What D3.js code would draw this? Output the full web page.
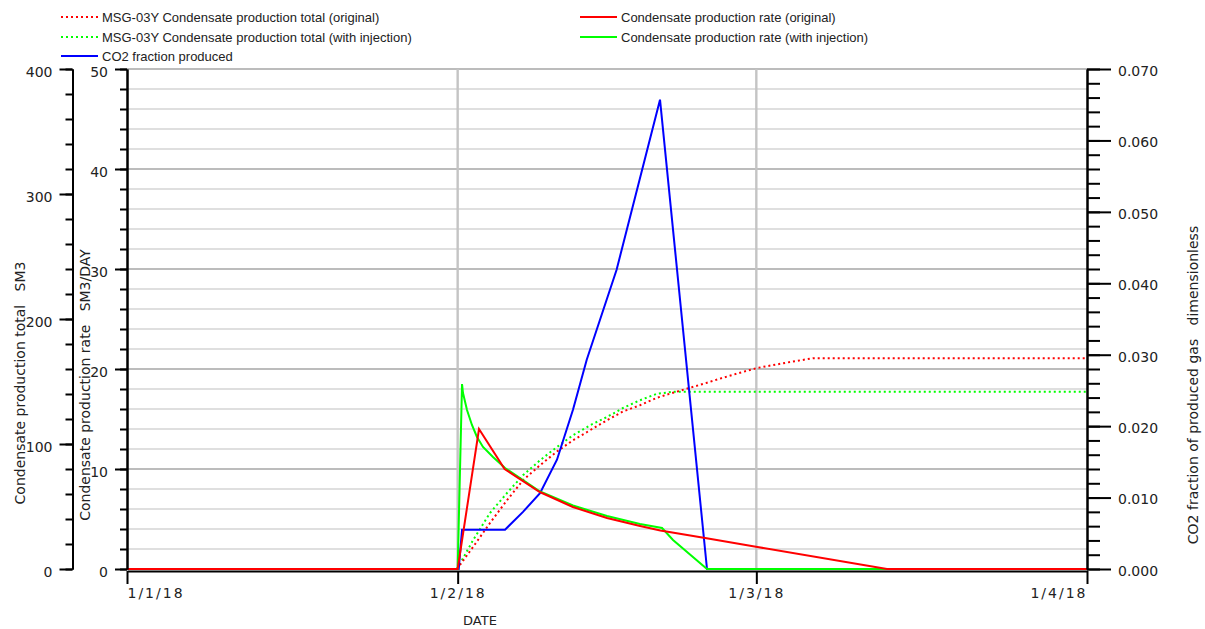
<!DOCTYPE html>
<html><head><meta charset="utf-8">
<script src="https://cdn.jsdelivr.net/npm/d3@7"></script>
<style>
html,body{margin:0;padding:0;background:#fff;}
svg{display:block;}
</style></head><body>
<svg id="c" width="1205" height="629"></svg>
<script>
// ---- data (days counted from 1 Jan 2018) ----
const dateTicks = ["2018-01-01","2018-02-01","2018-03-01","2018-04-01"];
const totalTicks = [0,100,200,300,400];
const rateTicks = [0,10,20,30,40,50];
const co2Ticks = [0,0.01,0.02,0.03,0.04,0.05,0.06,0.07];

const totalOrigDays = [0,30.94,32.44,34.03,35.625,37.125,38.72,40.31,41.81,43.41,45.0,46.5,48.09,49.69,51.19,52.78,54.375,55.875,57.47,59.06,62.16,64.3,90];
const totalOrigVals = [0,0,17.6,36.8,55,71,83,94,103,111,119,126,131,137,141,145,149,153,157,160.8,165.6,168.6,168.6];

const totalInjDays = [0,30.94,32.44,34.03,35.625,37.125,38.72,40.31,41.81,43.41,45.0,46.5,48.09,49.69,51.2,90];
const totalInjVals = [0,0,23,44.8,60.8,75,87,97.6,107,115,121.6,128.8,135,140.2,141.8,141.8];

const rateOrigDays = [0,31,33.0,35.4,38.7,41.8,45.0,48.1,50.0,54.2,59.1,71.25,90];
const rateOrigVals = [0,0,14.0,10.0,7.7,6.2,5.1,4.3,3.85,3.1,2.2,0,0];

const rateInjDays = [0,31,31.41,31.5,31.875,32.34,32.81,33.375,34.31,35.44,38.72,41.81,45.0,48.09,50.16,51.19,54.375,90];
const rateInjVals = [0,0,18.5,17.6,15.9,14.4,13.2,12.2,11.2,10.1,7.75,6.35,5.3,4.5,4.1,2.9,0,0];

const co2Days = [0,31.1,31.41,35.44,37.125,38.72,40.31,41.81,43.1,45.9,49.97,54.375,90];
const co2Vals = [0,0,0.0055,0.0055,0.0080,0.0106,0.0153,0.0223,0.0293,0.0419,0.0657,0,0];

const legendLabels = [
  "MSG-03Y Condensate production total (original)",
  "MSG-03Y Condensate production total (with injection)",
  "CO2 fraction produced",
  "Condensate production rate (original)",
  "Condensate production rate (with injection)"
];
const axisTitles = ["Condensate production total   SM3","Condensate production rate   SM3/DAY","CO2 fraction of produced gas   dimensionless","DATE"];

// ---- drawing ----
const svg = d3.select("#c");
const base = Date.UTC(2018,0,1);
const toDate = d => new Date(base + d*864e5);
const parse = d3.utcParse("%Y-%m-%d");

const x = d3.scaleUtc().domain([parse(dateTicks[0]), parse(dateTicks[3])]).range([127,1087]);
const yTot = d3.scaleLinear().domain([0,400]).range([569,69]);
const yRate = d3.scaleLinear().domain([0,50]).range([569,69]);
const yCo2 = d3.scaleLinear().domain([0,0.07]).range([569,69]);

// grid
const g = svg.append("g");
d3.range(2,50.001,2).forEach(v=>{
  const major = Math.abs(v/10 - Math.round(v/10))<1e-6;
  g.append("line").attr("x1",127).attr("x2",1087)
    .attr("y1",yRate(v)).attr("y2",yRate(v))
    .attr("stroke", major ? "#bcbcbc" : "#d4d4d4")
    .attr("stroke-width", major ? 2.2 : 1.6);
});
dateTicks.slice(1,3).forEach(s=>{
  g.append("line").attr("x1",x(parse(s))).attr("x2",x(parse(s)))
   .attr("y1",69).attr("y2",569).attr("stroke","#c4c4c4").attr("stroke-width",2.4);
});

function series(days, vals){ return days.map((d,i)=>({t:toDate(d), v:vals[i]})); }
function path(data, y, color, dotted){
  const line = d3.line().x(d=>x(d.t)).y(d=>y(d.v));
  svg.append("path").datum(data).attr("d",line).attr("fill","none")
    .attr("stroke",color).attr("stroke-width",2)
    .attr("stroke-dasharray", dotted ? "2,3" : null);
}

// axes
function styleAxis(sel, fs){
  sel.selectAll(".domain").attr("stroke","#000").attr("stroke-width",2);
  sel.selectAll(".tick line").attr("stroke","#000").attr("stroke-width",2);
  sel.selectAll("text").attr("font-family","'DejaVu Sans', sans-serif")
     .attr("font-size",fs).attr("fill","#222");
}
// bottom (drawn first so data lines sit on top of it)
const aX = svg.append("g").attr("transform","translate(0,571)")
  .call(d3.axisBottom(x).tickValues(dateTicks.map(parse)).tickSize(13).tickSizeOuter(0).tickPadding(4).tickFormat(d3.utcFormat("%-d/%-m/%y")));
styleAxis(aX,14);
aX.selectAll("text").attr("letter-spacing","2px")
  .attr("text-anchor",(d,i)=> i===0 ? "start" : (i===dateTicks.length-1 ? "end" : "middle"));

path(series(totalInjDays,totalInjVals), yTot, "#00ff00", true);
path(series(totalOrigDays,totalOrigVals), yTot, "#ff0000", true);
path(series(co2Days,co2Vals), yCo2, "#0000ff", false);
path(series(rateInjDays,rateInjVals), yRate, "#00ff00", false);
path(series(rateOrigDays,rateOrigVals), yRate, "#ff0000", false);

// outer left (total)
const aTotMinor = svg.append("g").attr("transform","translate(72.5,0)")
  .call(d3.axisLeft(yTot).tickValues(d3.range(0,400.1,20)).tickSize(7).tickSizeOuter(0).tickFormat(""));
styleAxis(aTotMinor,14);
const aTot = svg.append("g").attr("transform","translate(72.5,0)")
  .call(d3.axisLeft(yTot).tickValues(totalTicks).tickSize(13).tickSizeOuter(0).tickPadding(7).tickFormat(d3.format("d")));
styleAxis(aTot,14);
aTot.selectAll("text").attr("dy","0.55em");

// inner left (rate)
const aRateMinor = svg.append("g").attr("transform","translate(127,0)")
  .call(d3.axisLeft(yRate).tickValues(d3.range(0,50.1,2)).tickSize(7).tickSizeOuter(0).tickFormat(""));
styleAxis(aRateMinor,14);
const aRate = svg.append("g").attr("transform","translate(127,0)")
  .call(d3.axisLeft(yRate).tickValues(rateTicks).tickSize(12).tickSizeOuter(0).tickPadding(7).tickFormat(d3.format("d")));
styleAxis(aRate,14);
aRate.selectAll("text").attr("dy","0.5em");

// right (co2)
const aCoMinor = svg.append("g").attr("transform","translate(1087,0)")
  .call(d3.axisRight(yCo2).tickValues(d3.range(0,0.0701,0.002)).tickSize(13).tickSizeOuter(0).tickFormat(""));
styleAxis(aCoMinor,14);
const aCo = svg.append("g").attr("transform","translate(1087,0)")
  .call(d3.axisRight(yCo2).tickValues(co2Ticks).tickSize(24).tickSizeOuter(0).tickPadding(7).tickFormat(d3.format(".3f")));
styleAxis(aCo,14);
aCo.selectAll("text").attr("dy","0.45em");

// titles
function vtitle(txt, cx, cy){
  svg.append("text").attr("transform",`translate(${cx},${cy}) rotate(-90)`)
    .attr("text-anchor","middle").attr("dominant-baseline","central")
    .attr("font-family","'DejaVu Sans', sans-serif").attr("font-size",14).attr("fill","#222")
    .style("white-space","pre").text(txt);
}
vtitle(axisTitles[0], 20, 383);
vtitle(axisTitles[1], 85, 385);
vtitle(axisTitles[2], 1193, 385);
svg.append("text").attr("x",480).attr("y",625).attr("text-anchor","middle")
  .attr("font-family","'DejaVu Sans', sans-serif").attr("font-size",13).attr("fill","#222").text(axisTitles[3]);

// legend
const legColors = ["#ff0000","#00ff00","#0000ff","#ff0000","#00ff00"];
const legDotted = [true,true,false,false,false];
const legPos = [[61,17],[61,37],[61,56],[580,17],[580,37]];
legendLabels.forEach((lab,i)=>{
  const [lx,ly] = legPos[i];
  svg.append("line").attr("x1",lx).attr("x2",lx+37).attr("y1",ly).attr("y2",ly)
    .attr("stroke",legColors[i]).attr("stroke-width",2)
    .attr("stroke-dasharray", legDotted[i] ? "2,3" : null);
  svg.append("text").attr("x",lx+41).attr("y",ly).attr("dominant-baseline","central")
    .attr("font-family","'Liberation Sans', Arial, sans-serif").attr("font-size",13)
    .attr("fill","#222").text(lab);
});
</script>
</body></html>
